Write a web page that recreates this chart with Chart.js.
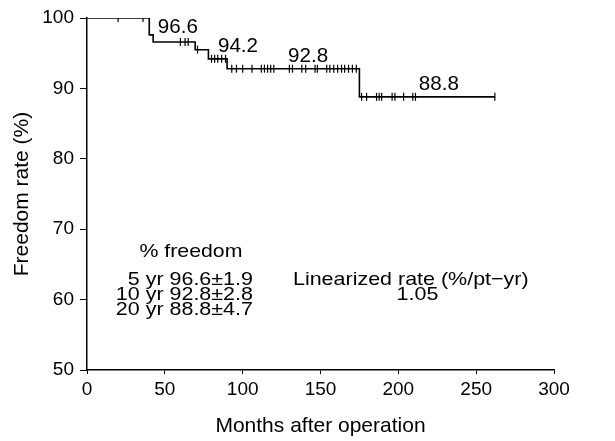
<!DOCTYPE html>
<html>
<head>
<meta charset="utf-8">
<script src="https://cdn.jsdelivr.net/npm/chart.js@4"></script>
<style>
  body { margin: 0; background: #fff; }
</style>
</head>
<body>
<canvas id="chart" width="615" height="441"></canvas>
<script>
// curva de freedom (degraus)
const months = [0, 40, 42.5, 69.5, 78, 90, 175, 262];
const freedom = [100, 97.6, 96.6, 95.5, 94.2, 92.8, 88.8, 88.8];

// tempos dos casos censurados (marcas verticais)
const censoredMonths = [
  20, 36,
  60, 63, 65,
  71,
  80, 82, 84, 86.5, 89,
  93, 96, 100, 106, 112, 114, 116, 118, 120, 130, 132, 138, 140.5, 146.5, 148,
  154, 156, 158.5, 161, 163.5, 165.5, 168, 170.5, 173,
  176.4, 179.6, 186, 187.7, 189.3, 196, 197.8, 203.4, 209.3, 211, 262
];

const xTicks = [0, 50, 100, 150, 200, 250, 300];
const yTicks = [50, 60, 70, 80, 90, 100];

// rótulos sobre a curva
const stepLabels = ['96.6', '94.2', '92.8', '88.8'];
const freedomLines = ['5 yr 96.6\u00b11.9', '10 yr 92.8\u00b12.8', '20 yr 88.8\u00b14.7'];
const rateTitle = 'Linearized rate (%/pt\u2212yr)';
const rateValue = '1.05';

// valor da curva num dado mês (para posicionar as marcas)
function freedomAt(t) {
  let v = freedom[0];
  for (let i = 0; i < months.length; i++) {
    if (months[i] <= t) v = freedom[i];
  }
  return v;
}

const FONT = 'Liberation Sans, Arial, sans-serif';

// texto um pouco mais largo, como no original escaneado
function drawText(ctx, text, px, py, align, sx) {
  ctx.save();
  ctx.translate(px, py);
  ctx.scale(sx, 1);
  ctx.textAlign = align;
  ctx.fillText(text, 0, 0);
  ctx.restore();
}

const textPlugin = {
  id: 'textos',
  afterDatasetsDraw(chart) {
    const { ctx, scales: { x, y } } = chart;
    ctx.save();
    ctx.fillStyle = '#000';
    ctx.textBaseline = 'middle';

    ctx.font = '20px ' + FONT;
    const spots = [[58.4, 98.65], [97, 95.9], [142, 94.6], [226, 90.6]];
    stepLabels.forEach((t, i) => {
      drawText(ctx, t, x.getPixelForValue(spots[i][0]), y.getPixelForValue(spots[i][1]), 'center', 1.03);
    });

    ctx.font = '19px ' + FONT;
    drawText(ctx, '% freedom', x.getPixelForValue(66.8), y.getPixelForValue(66.8), 'center', 1.12);
    const rowY = [62.8, 60.65, 58.5];
    freedomLines.forEach((t, i) => {
      drawText(ctx, t, x.getPixelForValue(106.6), y.getPixelForValue(rowY[i]), 'right', 1.13);
    });
    drawText(ctx, rateTitle, x.getPixelForValue(208), y.getPixelForValue(62.75), 'center', 1.13);
    drawText(ctx, rateValue, x.getPixelForValue(212.3), y.getPixelForValue(60.65), 'center', 1.13);
    ctx.restore();
  }
};

new Chart(document.getElementById('chart'), {
  type: 'line',
  data: {
    datasets: [
      {
        data: months.map((m, i) => ({ x: m, y: freedom[i] })),
        stepped: 'before',
        borderColor: '#000',
        borderWidth: 1.6,
        pointRadius: 0,
        fill: false
      },
      {
        type: 'scatter',
        data: censoredMonths.map(m => ({ x: m, y: freedomAt(m) })),
        pointStyle: 'line',
        rotation: 90,
        pointRadius: 4,
        borderColor: '#000',
        borderWidth: 1.2,
        showLine: false
      }
    ]
  },
  options: {
    responsive: false,
    animation: false,
    layout: { padding: { left: 0, top: 18, right: 61, bottom: 0 } },
    plugins: {
      legend: { display: false },
      tooltip: { enabled: false }
    },
    scales: {
      x: {
        type: 'linear',
        min: 0,
        max: 300,
        afterFit(scale) { scale.height = 71; },
        afterBuildTicks(scale) { scale.ticks = xTicks.map(v => ({ value: v })); },
        border: { display: true, color: '#000', width: 1.5 },
        grid: { drawOnChartArea: false, drawTicks: true, tickLength: 4, color: '#000', tickWidth: 1 },
        ticks: { color: '#000', padding: 4, maxRotation: 0, font: { family: FONT, size: 19 } },
        title: {
          display: true,
          text: 'Months after operation',
          color: '#000',
          font: { family: FONT, size: 21 },
          padding: { top: 0, bottom: 2 }
        }
      },
      y: {
        min: 50,
        max: 100,
        afterFit(scale) { scale.width = 87; },
        afterBuildTicks(scale) { scale.ticks = yTicks.map(v => ({ value: v })); },
        border: { display: true, color: '#000', width: 1.5 },
        grid: { drawOnChartArea: false, drawTicks: true, tickLength: 7, color: '#000', tickWidth: 1 },
        ticks: { color: '#000', padding: 6, font: { family: FONT, size: 19 } },
        title: {
          display: true,
          text: 'Freedom rate (%)',
          color: '#000',
          font: { family: FONT, size: 21 },
          padding: { top: 10, bottom: 0 }
        }
      }
    }
  },
  plugins: [textPlugin]
});
</script>
</body>
</html>
